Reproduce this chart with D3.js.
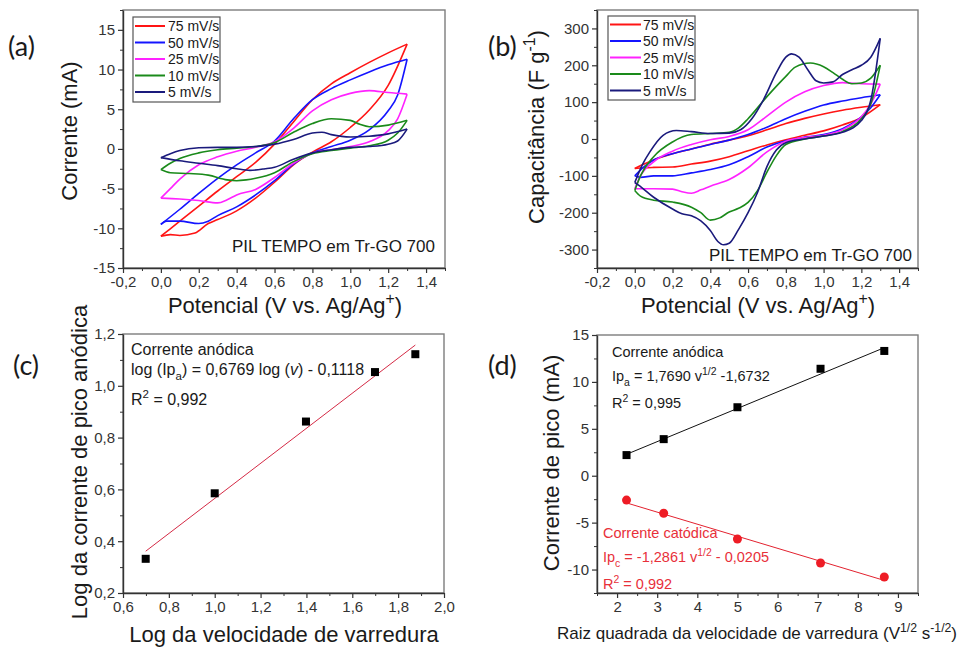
<!DOCTYPE html>
<html>
<head>
<meta charset="utf-8">
<script src="https://cdn.jsdelivr.net/npm/d3@7"></script>
<style>
  body { margin: 0; background: #fff; }
  svg { display: block; font-family: "Liberation Sans", Arial, sans-serif; }
</style>
</head>
<body>
<script>
// ---- Scan rates shared by the two CV panels ----
const scanRates = ["75 mV/s", "50 mV/s", "25 mV/s", "10 mV/s", "5 mV/s"];
const scanColors = ["#ff1414", "#1414ff", "#ff22ff", "#1a8a1a", "#1a1a7c"];

// ---- (a) Current (mA) vs potential (V); forward and reverse sweeps ----
const currentForward = [
  [[0,-11.0],[0.1,-9.1],[0.2,-7.2],[0.3,-5.3],[0.4,-3.5],[0.5,-1.7],[0.6,0.6],[0.7,3.4],[0.8,6.2],[0.9,8.2],[1.0,9.6],[1.1,10.9],[1.2,12.1],[1.3,13.2]],
  [[0,-9.5],[0.1,-7.6],[0.2,-5.6],[0.3,-3.7],[0.4,-2.0],[0.5,-0.5],[0.6,1.0],[0.7,3.8],[0.8,6.2],[0.9,7.6],[1.0,8.7],[1.1,9.7],[1.2,10.6],[1.3,11.3]],
  [[0,-6.2],[0.05,-5.0],[0.1,-3.8],[0.2,-2.0],[0.3,-1.0],[0.4,-0.3],[0.5,0.2],[0.6,0.9],[0.7,2.6],[0.8,4.8],[0.9,6.2],[1.0,7.0],[1.1,7.35],[1.2,7.1],[1.3,6.9]],
  [[0,-2.6],[0.05,-1.8],[0.1,-1.2],[0.2,-0.5],[0.3,-0.1],[0.4,0.1],[0.5,0.3],[0.6,0.8],[0.7,2.1],[0.8,3.2],[0.9,3.8],[1.0,3.6],[1.05,3.1],[1.1,2.8],[1.2,3.0],[1.3,3.6]],
  [[0,-1.1],[0.05,-0.6],[0.1,-0.2],[0.2,0.15],[0.3,0.2],[0.4,0.2],[0.5,0.3],[0.6,0.6],[0.7,1.2],[0.8,2.0],[0.85,2.1],[0.9,1.8],[1.0,1.5],[1.1,1.6],[1.2,1.9],[1.3,2.5]]
];
const currentReverse = [
  [[0,-11.0],[0.05,-10.8],[0.1,-10.9],[0.18,-10.6],[0.25,-9.4],[0.3,-8.9],[0.4,-7.8],[0.5,-6.2],[0.6,-4.2],[0.7,-2.0],[0.8,-0.4],[0.9,0.9],[1.0,2.7],[1.1,4.9],[1.2,8.0],[1.3,13.2]],
  [[0,-9.5],[0.03,-9.1],[0.1,-9.1],[0.2,-9.4],[0.25,-9.1],[0.3,-8.4],[0.4,-7.3],[0.5,-5.8],[0.6,-4.0],[0.7,-1.9],[0.8,-0.5],[0.9,0.3],[1.0,1.1],[1.1,2.4],[1.2,4.8],[1.25,6.8],[1.3,11.3]],
  [[0,-6.2],[0.1,-6.3],[0.2,-6.5],[0.3,-6.8],[0.35,-6.4],[0.4,-5.8],[0.5,-5.1],[0.6,-3.6],[0.7,-1.8],[0.8,-0.5],[0.9,-0.1],[1.0,0.3],[1.1,0.9],[1.2,2.3],[1.25,3.8],[1.3,6.9]],
  [[0,-2.6],[0.05,-3.0],[0.15,-3.1],[0.25,-3.3],[0.35,-3.9],[0.4,-4.0],[0.45,-3.9],[0.5,-3.7],[0.6,-3.0],[0.7,-1.6],[0.8,-0.6],[0.9,-0.2],[1.0,0.1],[1.1,0.4],[1.2,1.1],[1.25,2.0],[1.3,3.6]],
  [[0,-1.1],[0.1,-1.5],[0.2,-1.8],[0.3,-2.1],[0.4,-2.5],[0.47,-2.7],[0.55,-2.5],[0.6,-2.3],[0.7,-1.3],[0.8,-0.5],[0.9,-0.1],[1.0,0.2],[1.1,0.3],[1.2,0.6],[1.25,1.0],[1.3,2.5]]
];

// ---- (b) Capacitance (F/g) vs potential (V) ----
const capForward = [
  [[0,-80],[0.05,-68],[0.1,-57],[0.2,-40],[0.3,-27],[0.4,-14],[0.5,-3],[0.6,9],[0.7,25],[0.8,42],[0.9,56],[1.0,68],[1.1,78],[1.2,86],[1.3,93]],
  [[0,-100],[0.05,-75],[0.1,-57],[0.2,-40],[0.3,-27],[0.4,-15],[0.5,-3],[0.6,12],[0.7,32],[0.8,55],[0.9,75],[1.0,92],[1.1,103],[1.2,112],[1.3,120]],
  [[0,-135],[0.03,-100],[0.1,-62],[0.2,-33],[0.3,-15],[0.4,-2],[0.5,7],[0.6,25],[0.7,62],[0.8,100],[0.9,128],[1.0,145],[1.1,153],[1.2,150],[1.3,149]],
  [[0,-140],[0.03,-100],[0.1,-48],[0.2,-8],[0.3,12],[0.4,15],[0.5,18],[0.55,30],[0.6,55],[0.7,115],[0.8,170],[0.85,195],[0.93,206],[1.0,196],[1.05,180],[1.1,162],[1.15,150],[1.2,152],[1.25,165],[1.3,200]],
  [[0,-118],[0.04,-70],[0.08,-35],[0.15,10],[0.22,23],[0.3,20],[0.4,15],[0.5,16],[0.56,25],[0.62,55],[0.68,105],[0.75,180],[0.8,222],[0.83,231],[0.87,222],[0.92,185],[0.96,158],[1.0,152],[1.05,155],[1.1,175],[1.15,188],[1.2,200],[1.25,222],[1.3,273]]
];
const capReverse = [
  [[0,-80],[0.05,-78],[0.1,-77],[0.2,-76],[0.3,-68],[0.4,-60],[0.5,-48],[0.6,-32],[0.7,-16],[0.8,-2],[0.9,10],[1.0,22],[1.1,38],[1.2,58],[1.3,93]],
  [[0,-100],[0.03,-104],[0.1,-100],[0.2,-100],[0.3,-92],[0.4,-83],[0.5,-70],[0.6,-48],[0.7,-22],[0.8,-5],[0.9,5],[1.0,12],[1.1,28],[1.2,60],[1.25,85],[1.3,120]],
  [[0,-135],[0.1,-135],[0.2,-136],[0.25,-143],[0.3,-147],[0.35,-138],[0.4,-128],[0.5,-110],[0.6,-78],[0.7,-35],[0.8,-6],[0.9,4],[1.0,10],[1.1,25],[1.2,60],[1.25,95],[1.3,149]],
  [[0,-140],[0.03,-155],[0.1,-166],[0.2,-171],[0.3,-185],[0.35,-200],[0.4,-220],[0.45,-214],[0.5,-198],[0.55,-188],[0.6,-172],[0.65,-140],[0.7,-90],[0.75,-45],[0.8,-15],[0.9,0],[1.0,8],[1.1,20],[1.2,55],[1.25,95],[1.3,200]],
  [[0,-118],[0.02,-125],[0.1,-158],[0.2,-190],[0.25,-203],[0.3,-208],[0.35,-222],[0.4,-248],[0.44,-278],[0.47,-287],[0.5,-283],[0.55,-245],[0.6,-200],[0.65,-145],[0.7,-75],[0.75,-30],[0.8,-10],[0.9,0],[1.0,8],[1.1,18],[1.2,50],[1.25,105],[1.3,273]]
];

// ---- (c) log of anodic peak current vs log of scan rate ----
const logScanRate = [0.699, 1.0, 1.398, 1.699, 1.875];
const logAnodicPeak = [0.332, 0.585, 0.862, 1.053, 1.122];
const logFit = { slope: 0.6769, intercept: -0.1118 };

// ---- (d) peak currents vs square root of scan rate ----
const sqrtScanRate = [2.236, 3.162, 5.0, 7.071, 8.660];
const anodicPeak = [2.2, 3.9, 7.3, 11.4, 13.3];
const cathodicPeak = [-2.6, -4.0, -6.75, -9.3, -10.8];
const anodicFit = { slope: 1.7690, intercept: -1.6732 };
const cathodicFit = { slope: -1.2861, intercept: -0.0205 };

// ---- tick values ----
const potentialTicks = [-0.2, 0, 0.2, 0.4, 0.6, 0.8, 1.0, 1.2, 1.4];
const currentTicks = [-15, -10, -5, 0, 5, 10, 15];
const capTicks = [-300, -200, -100, 0, 100, 200, 300];
const logRateTicks = [0.6, 0.8, 1.0, 1.2, 1.4, 1.6, 1.8, 2.0];
const logPeakTicks = [0.2, 0.4, 0.6, 0.8, 1.0, 1.2];
const sqrtRateTicks = [2, 3, 4, 5, 6, 7, 8, 9];
const peakTicks = [-10, -5, 0, 5, 10, 15];

const W = 960, H = 648;
const svg = d3.select("body").append("svg").attr("width", W).attr("height", H);

const locale = d3.formatLocale({ decimal: ",", thousands: ".", grouping: [3], currency: ["", ""], minus: "-" });
const fmt1 = locale.format(".1f");
const fmt0 = locale.format("d");

const INK = "#1a1a1a";

function minorBetween(major) {
  const out = [];
  for (let i = 0; i < major.length - 1; i++) out.push((major[i] + major[i + 1]) / 2);
  return out;
}

function makePanel(box, xDomain, yDomain, xMajor, yMajor, xFmt, yFmt, xMinorExtra, yMinorExtra) {
  const g = svg.append("g");
  const x = d3.scaleLinear().domain(xDomain).range([box.left, box.left + box.width]);
  const y = d3.scaleLinear().domain(yDomain).range([box.top + box.height, box.top]);
  g.append("rect")
    .attr("x", box.left).attr("y", box.top)
    .attr("width", box.width).attr("height", box.height)
    .attr("fill", "none").attr("stroke", "#7d7d7d").attr("stroke-width", 1.4);

  const xMinor = minorBetween(xMajor).concat(xMinorExtra || []);
  const yMinor = minorBetween(yMajor).concat(yMinorExtra || []);
  const bottom = box.top + box.height;

  const styleAxis = sel => {
    sel.select(".domain").attr("stroke", "#333").attr("stroke-width", 1.4);
    sel.selectAll(".tick line").attr("stroke", "#333").attr("stroke-width", 1.2);
    sel.selectAll(".tick text").attr("fill", "#333").attr("font-size", 15)
      .attr("font-family", "'Liberation Sans', Arial, sans-serif");
  };

  g.append("g").attr("transform", `translate(0,${bottom})`)
    .call(d3.axisBottom(x).tickValues(xMinor).tickSize(3).tickFormat(""))
    .call(s => { s.select(".domain").remove(); s.selectAll(".tick line").attr("stroke", "#333"); });
  g.append("g").attr("transform", `translate(0,${bottom})`)
    .call(d3.axisBottom(x).tickValues(xMajor).tickSize(5).tickSizeOuter(0).tickPadding(3).tickFormat(xFmt))
    .call(styleAxis);

  g.append("g").attr("transform", `translate(${box.left},0)`)
    .call(d3.axisLeft(y).tickValues(yMinor).tickSize(3).tickFormat(""))
    .call(s => { s.select(".domain").remove(); s.selectAll(".tick line").attr("stroke", "#333"); });
  g.append("g").attr("transform", `translate(${box.left},0)`)
    .call(d3.axisLeft(y).tickValues(yMajor).tickSize(5).tickSizeOuter(0).tickPadding(3).tickFormat(yFmt))
    .call(styleAxis);
  return { g, x, y };
}

// text with sub/superscripts and italics
function rich(g, x, y, parts, size, color, anchor) {
  const t = g.append("text").attr("x", x).attr("y", y)
    .attr("font-size", size).attr("fill", color).attr("text-anchor", anchor || "start");
  let shift = 0;
  parts.forEach(([s, k]) => {
    const target = k === "sub" ? size * 0.32 : k === "sup" ? -size * 0.42 : 0;
    const ts = t.append("tspan").attr("dy", target - shift).text(s);
    if (k === "sub" || k === "sup") ts.attr("font-size", size * 0.72);
    if (k === "it") ts.attr("font-style", "italic");
    shift = target;
  });
  return t;
}

function yTitle(g, cx, cy, parts, size) {
  const t = rich(g, 0, 0, parts, size, INK, "middle");
  t.attr("transform", `translate(${cx},${cy}) rotate(-90)`).attr("x", null).attr("y", null);
  return t;
}

function panelLabel(x, y, s) {
  svg.append("text").attr("x", x).attr("y", y).text(s)
    .attr("font-family", "Lato, 'Open Sans', sans-serif").attr("font-size", 27).attr("fill", INK);
}

function legend(g, x0, y0, w, h, lineX1, lineX2, textX, rowY) {
  g.append("rect").attr("x", x0).attr("y", y0).attr("width", w).attr("height", h)
    .attr("fill", "#fff").attr("stroke", "#555").attr("stroke-width", 1.2);
  scanRates.forEach((r, i) => {
    const yy = rowY[i];
    g.append("line").attr("x1", lineX1).attr("x2", lineX2).attr("y1", yy).attr("y2", yy)
      .attr("stroke", scanColors[i]).attr("stroke-width", 2);
    g.append("text").attr("x", textX).attr("y", yy + 5).attr("font-size", 14).attr("fill", INK).text(r);
  });
}

function drawLoops(p, fwd, rev) {
  const line = d3.line().x(d => p.x(d[0])).y(d => p.y(d[1])).curve(d3.curveMonotoneX);
  scanRates.forEach((r, i) => {
    [fwd[i], rev[i]].forEach(branch => {
      p.g.append("path").datum(branch).attr("d", line)
        .attr("fill", "none").attr("stroke", scanColors[i]).attr("stroke-width", 1.6)
        .attr("stroke-linejoin", "round");
    });
  });
}

// ===== (a) =====
const pA = makePanel({ left: 123, top: 10, width: 322, height: 258 }, [-0.2, 1.5], [-15, 17.5],
  potentialTicks, currentTicks, fmt1, fmt0, [1.5], [17.5]);
drawLoops(pA, currentForward, currentReverse);
legend(pA.g, 133, 17, 87, 85, 135, 165, 168, [26, 42.5, 59, 75.5, 92]);
pA.g.append("text").attr("x", 435).attr("y", 252).attr("text-anchor", "end")
  .attr("font-size", 17).attr("fill", INK).text("PIL TEMPO em Tr-GO 700");
rich(svg, 285, 313, [["Potencial (V vs. Ag/Ag", ""], ["+", "sup"], [")", ""]], 22, INK, "middle");
yTitle(svg, 77, 131, [["Corrente (mA)", ""]], 22);
panelLabel(8, 56, "(a)");

// ===== (b) =====
const pB = makePanel({ left: 597, top: 10, width: 321, height: 258 }, [-0.2, 1.5], [-350, 350],
  potentialTicks, capTicks, fmt1, fmt0, [1.5], [-350, 350]);
drawLoops(pB, capForward, capReverse);
legend(pB.g, 608, 16, 87, 84, 610, 641, 643, [24.5, 41, 57.5, 74, 90.5]);
pB.g.append("text").attr("x", 912).attr("y", 261).attr("text-anchor", "end")
  .attr("font-size", 17).attr("fill", INK).text("PIL TEMPO em Tr-GO 700");
rich(svg, 758, 313, [["Potencial (V vs. Ag/Ag", ""], ["+", "sup"], [")", ""]], 22, INK, "middle");
yTitle(svg, 544, 127, [["Capacitância (F g", ""], ["-1", "sup"], [")", ""]], 22);
panelLabel(488, 56, "(b)");

// ===== (c) =====
const pC = makePanel({ left: 123, top: 334, width: 321, height: 259 }, [0.6, 2.0], [0.2, 1.2],
  logRateTicks, logPeakTicks, fmt1, fmt1);
const fitC = [logScanRate[0], logScanRate[logScanRate.length - 1]]
  .map(v => [v, logFit.slope * v + logFit.intercept]);
pC.g.append("path").datum(fitC)
  .attr("d", d3.line().x(d => pC.x(d[0])).y(d => pC.y(d[1])))
  .attr("stroke", "#d42a45").attr("stroke-width", 1).attr("fill", "none");
pC.g.selectAll("rect.pt").data(logScanRate).join("rect").attr("class", "pt")
  .attr("x", (d) => pC.x(d) - 4).attr("y", (d, i) => pC.y(logAnodicPeak[i]) - 4)
  .attr("width", 8).attr("height", 8).attr("fill", "#000");
pC.g.append("text").attr("x", 131).attr("y", 355).attr("font-size", 16).attr("fill", INK).text("Corrente anódica");
rich(pC.g, 131, 375, [["log (Ip", ""], ["a", "sub"], [") = 0,6769 log (", ""], ["v", "it"], [") - 0,1118", ""]], 16, INK);
rich(pC.g, 131, 405, [["R", ""], ["2", "sup"], [" = 0,992", ""]], 16, INK);
svg.append("text").attr("x", 284).attr("y", 642).attr("text-anchor", "middle")
  .attr("font-size", 22).attr("fill", INK).text("Log da velocidade de varredura");
yTitle(svg, 87, 462, [["Log da corrente de pico anódica", ""]], 22);
panelLabel(13, 375, "(c)");

// ===== (d) =====
const pD = makePanel({ left: 597, top: 335, width: 321, height: 258 }, [1.5, 9.5], [-12.5, 15],
  sqrtRateTicks, peakTicks, fmt0, fmt0, [1.5, 9.5], [-12.5]);
const xEnds = [sqrtScanRate[0], sqrtScanRate[sqrtScanRate.length - 1]];
const lineD = d3.line().x(d => pD.x(d[0])).y(d => pD.y(d[1]));
pD.g.append("path").datum(xEnds.map(v => [v, anodicFit.slope * v + anodicFit.intercept]))
  .attr("d", lineD).attr("stroke", "#111").attr("stroke-width", 1).attr("fill", "none");
pD.g.append("path").datum(xEnds.map(v => [v, cathodicFit.slope * v + cathodicFit.intercept]))
  .attr("d", lineD).attr("stroke", "#e3222f").attr("stroke-width", 1).attr("fill", "none");
pD.g.selectAll("rect.pt").data(sqrtScanRate).join("rect").attr("class", "pt")
  .attr("x", d => pD.x(d) - 4).attr("y", (d, i) => pD.y(anodicPeak[i]) - 4)
  .attr("width", 8).attr("height", 8).attr("fill", "#000");
pD.g.selectAll("circle.pt").data(sqrtScanRate).join("circle").attr("class", "pt")
  .attr("cx", d => pD.x(d)).attr("cy", (d, i) => pD.y(cathodicPeak[i]))
  .attr("r", 4.5).attr("fill", "#ee1c25");
const RED_TXT = "#e8303a";
pD.g.append("text").attr("x", 612).attr("y", 357).attr("font-size", 14.5).attr("fill", INK).text("Corrente anódica");
rich(pD.g, 612, 381, [["Ip", ""], ["a", "sub"], [" = 1,7690 v", ""], ["1/2", "sup"], [" -1,6732", ""]], 14.5, INK);
rich(pD.g, 612, 408, [["R", ""], ["2", "sup"], [" = 0,995", ""]], 14.5, INK);
pD.g.append("text").attr("x", 603).attr("y", 538).attr("font-size", 14.5).attr("fill", RED_TXT).text("Corrente catódica");
rich(pD.g, 603, 562, [["Ip", ""], ["c", "sub"], [" = -1,2861 v", ""], ["1/2", "sup"], [" - 0,0205", ""]], 14.5, RED_TXT);
rich(pD.g, 603, 589, [["R", ""], ["2", "sup"], [" = 0,992", ""]], 14.5, RED_TXT);
rich(svg, 757, 639, [["Raiz quadrada da velocidade de varredura (V", ""], ["1/2", "sup"], [" s", ""], ["-1/2", "sup"], [")", ""]], 17, INK, "middle");
yTitle(svg, 559, 463, [["Corrente de pico (mA)", ""]], 22);
panelLabel(488, 375, "(d)");
</script>
</body>
</html>
